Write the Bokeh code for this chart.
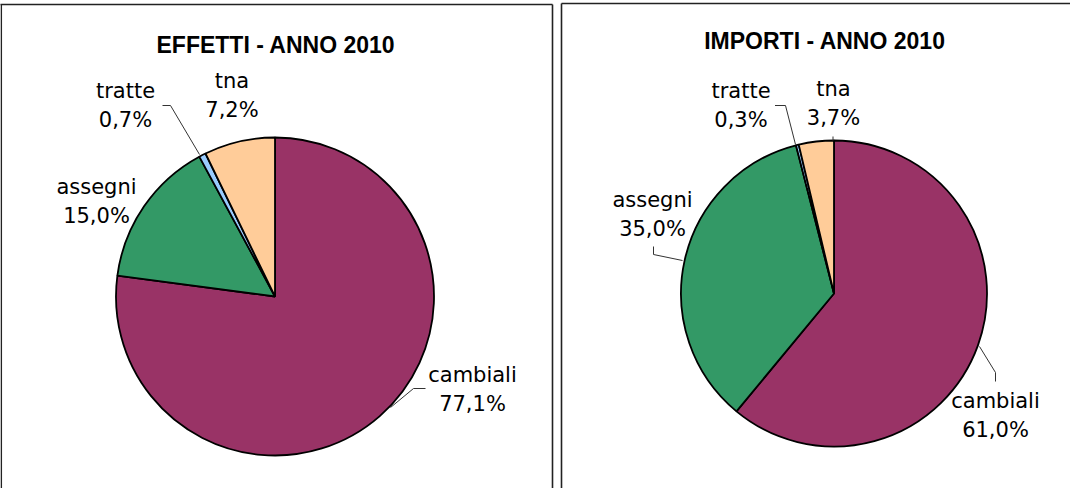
import math
from bokeh.plotting import figure
from bokeh.models import Range1d, ColumnDataSource
from bokeh.core.properties import value
from bokeh.embed import file_html
from bokeh.resources import INLINE

# ---------------- data ----------------
categories = ["cambiali", "assegni", "tratte", "tna"]
effetti_pct = [77.1, 15.0, 0.7, 7.2]
importi_pct = [61.0, 35.0, 0.3, 3.7]
titles = ["EFFETTI - ANNO 2010", "IMPORTI - ANNO 2010"]
colors = ["#993366", "#339966", "#99CCFF", "#FFCC99"]

# ---------------- layout (page pixels) ----------------
W, H = 1070, 488
def X(px):
    return px - 8
def Y(py):
    return 496 - py

charts = [
    dict(values=effetti_pct, title=titles[0], title_pos=(283.5, 52),
         center=(282.5, 304), radius=159,
         label_pos=[(480, 396.5), (104, 209), (133, 113), (239.5, 103)],
         leaders=[[(398, 415), (421, 396), (433, 396)], None,
                  [(207, 162), (178, 113), (170, 113)], None]),
    dict(values=importi_pct, title=titles[1], title_pos=(832.5, 48),
         center=(841.5, 301), radius=153,
         label_pos=[(1003, 423), (660, 222), (748.5, 112.5), (841, 111)],
         leaders=[[(987, 354), (1003, 380), (1003, 389)],
                  [(690, 268), (661, 262), (661, 254)],
                  [(803, 152), (793, 113), (782.5, 113)],
                  [(840.5, 148), (840.5, 144)]]),
]

p = figure(width=W, height=H, output_backend="svg", toolbar_location=None,
           x_range=Range1d(0, W), y_range=Range1d(0, H),
           x_axis_type=None, y_axis_type=None, min_border=0,
           background_fill_color="white", border_fill_color="white")
p.grid.visible = False
p.outline_line_color = None

# panel frames
frame_xs = [[X(7), X(560)], [0.75, 0.75], [X(560), X(560)],
            [X(569), X(1100)], [X(569), X(569)]]
frame_ys = [[Y(12), Y(12)], [Y(12), Y(520)], [Y(12), Y(520)],
            [Y(11), Y(11)], [Y(11), Y(520)]]
p.multi_line(xs=frame_xs, ys=frame_ys, line_color="#222222", line_width=1.6)

def fmt(v):
    return f"{v:.1f}".replace(".", ",") + "%"

for ch in charts:
    vals = ch["values"]
    total = sum(vals)
    cum = [0.0]
    for v in vals:
        cum.append(cum[-1] + v / total)
    starts = [math.pi / 2 - 2 * math.pi * c for c in cum[:-1]]
    ends = [math.pi / 2 - 2 * math.pi * c for c in cum[1:]]
    cx, cy = ch["center"]
    src = ColumnDataSource(dict(x=[X(cx)] * len(vals), y=[Y(cy)] * len(vals),
                                start=starts, end=ends, color=colors,
                                cat=categories))
    p.wedge(x="x", y="y", radius=ch["radius"], radius_units="screen",
            start_angle="start", end_angle="end", direction="clock",
            fill_color="color", line_color="black", line_width=1.8, source=src)

    # leader lines
    lx, ly = [], []
    for ld in ch["leaders"]:
        if ld:
            lx.append([X(a) for a, b in ld])
            ly.append([Y(b) for a, b in ld])
    p.multi_line(xs=lx, ys=ly, line_color="#333333", line_width=1)

    # data labels (two lines each)
    tx, ty, tt = [], [], []
    for cat, v, (px, py) in zip(categories, vals, ch["label_pos"]):
        tx += [X(px), X(px)]
        ty += [Y(py - 14.5), Y(py + 14.5)]
        tt += [cat, fmt(v)]
    p.text(x=tx, y=ty, text=tt, text_align="center", text_baseline="middle",
           text_font=value("DejaVu Sans"), text_font_size="21px",
           text_color="black")

    # title
    tpx, tpy = ch["title_pos"]
    p.text(x=[X(tpx)], y=[Y(tpy)], text=[ch["title"]], text_align="center",
           text_baseline="middle", text_font=value("Liberation Sans"),
           text_font_style="bold", text_font_size="23px", text_color="black")

open("out.html", "w").write(file_html(p, INLINE))
